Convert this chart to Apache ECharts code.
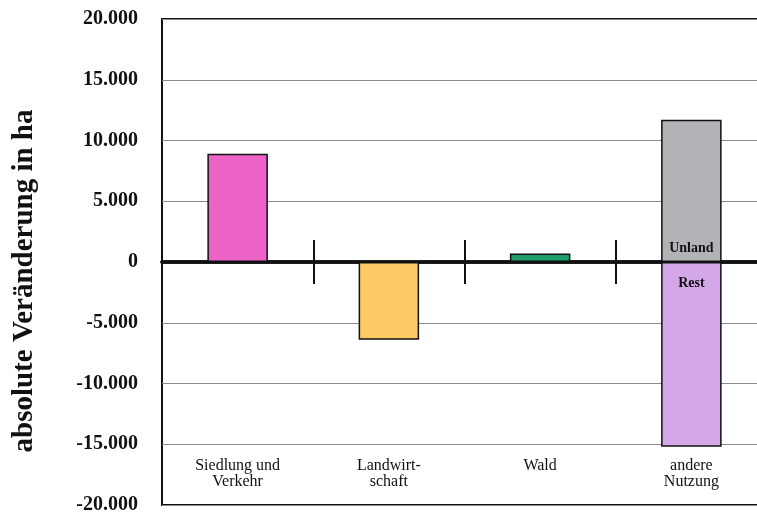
<!DOCTYPE html>
<html><head><meta charset="utf-8">
<script src="https://cdn.jsdelivr.net/npm/echarts@6/dist/echarts.min.js"></script>
<style>html,body{margin:0;padding:0;background:#fff}#c{width:757px;height:515px}</style>
</head><body><div id="c"></div>
<script>
const categories = ['Siedlung und\nVerkehr', 'Landwirt-\nschaft', 'Wald', 'andere\nNutzung'];
const mainValues = [8900, -6400, 700, 11700];
const mainColors = ['#ec62c6', '#fdc965', '#1f9e6b', '#b3b3b7'];
const restValues = [null, null, null, -15200];
const yTicks = { min: -20000, max: 20000, interval: 5000 };
const yName = 'absolute Veränderung in ha';

function fmt(v) {
  const s = Math.abs(v).toString().replace(/\B(?=(\d{3})+(?!\d))/g, '.');
  return (v < 0 ? '-' : '') + s;
}
const serif = 'Liberation Serif';
const chart = echarts.init(document.getElementById('c'));
chart.setOption({
  animation: false,
  grid: { left: 162, top: 19, width: 605, bottom: 10, outerBoundsMode: 'none', containLabel: false,
          show: true, borderColor: '#111', borderWidth: 2, backgroundColor: 'transparent' },
  xAxis: [
    { type: 'category', data: categories, position: 'bottom',
      axisLine: { show: false, onZero: false }, axisTick: { show: false },
      axisLabel: { inside: true, margin: 47, verticalAlign: 'top', fontFamily: serif, fontSize: 16, color: '#111', lineHeight: 16 } },
    { type: 'category', data: categories, position: 'bottom',
      axisLine: { show: true, onZero: true, onZeroAxisIndex: 0, lineStyle: { color: '#111', width: 3.5 } },
      axisTick: { show: true, length: 22, lineStyle: { color: '#111', width: 2 } },
      axisLabel: { show: false } },
    { type: 'category', data: categories, position: 'top',
      axisLine: { show: true, onZero: true, onZeroAxisIndex: 0, lineStyle: { color: '#111', width: 3.5 } },
      axisTick: { show: true, length: 22, lineStyle: { color: '#111', width: 2 } },
      axisLabel: { show: false } }
  ],
  yAxis: {
    type: 'value', min: yTicks.min, max: yTicks.max, interval: yTicks.interval,
    name: yName, nameLocation: 'middle', nameGap: 123, nameRotate: 90,
    nameTextStyle: { fontFamily: serif, fontWeight: 'bold', fontSize: 29, color: '#111', padding: [0, 38, 0, 0] },
    axisLine: { show: false }, axisTick: { show: false },
    axisLabel: { formatter: fmt, margin: 24, fontFamily: serif, fontWeight: 'bold', fontSize: 20, color: '#111' },
    splitLine: { lineStyle: { color: '#8a8a8a', width: 1 } }
  },
  series: [
    { type: 'bar', stack: 's', xAxisIndex: 0, barWidth: '40%',
      data: mainValues.map((v, i) => ({ value: v, itemStyle: { color: mainColors[i] },
        label: i === 3 ? { show: true, position: 'insideBottom', distance: 7, formatter: 'Unland', fontFamily: serif, fontWeight: 'bold', fontSize: 14, color: '#111' } : { show: false } })),
      itemStyle: { borderColor: '#111', borderWidth: 1.5 } },
    { type: 'bar', stack: 's', xAxisIndex: 0, barWidth: '40%',
      data: restValues,
      itemStyle: { color: '#d4a7e8', borderColor: '#111', borderWidth: 1.5 },
      label: { show: true, position: 'insideTop', distance: 14, formatter: 'Rest', fontFamily: serif, fontWeight: 'bold', fontSize: 14, color: '#111' } }
  ]
});
</script></body></html>
